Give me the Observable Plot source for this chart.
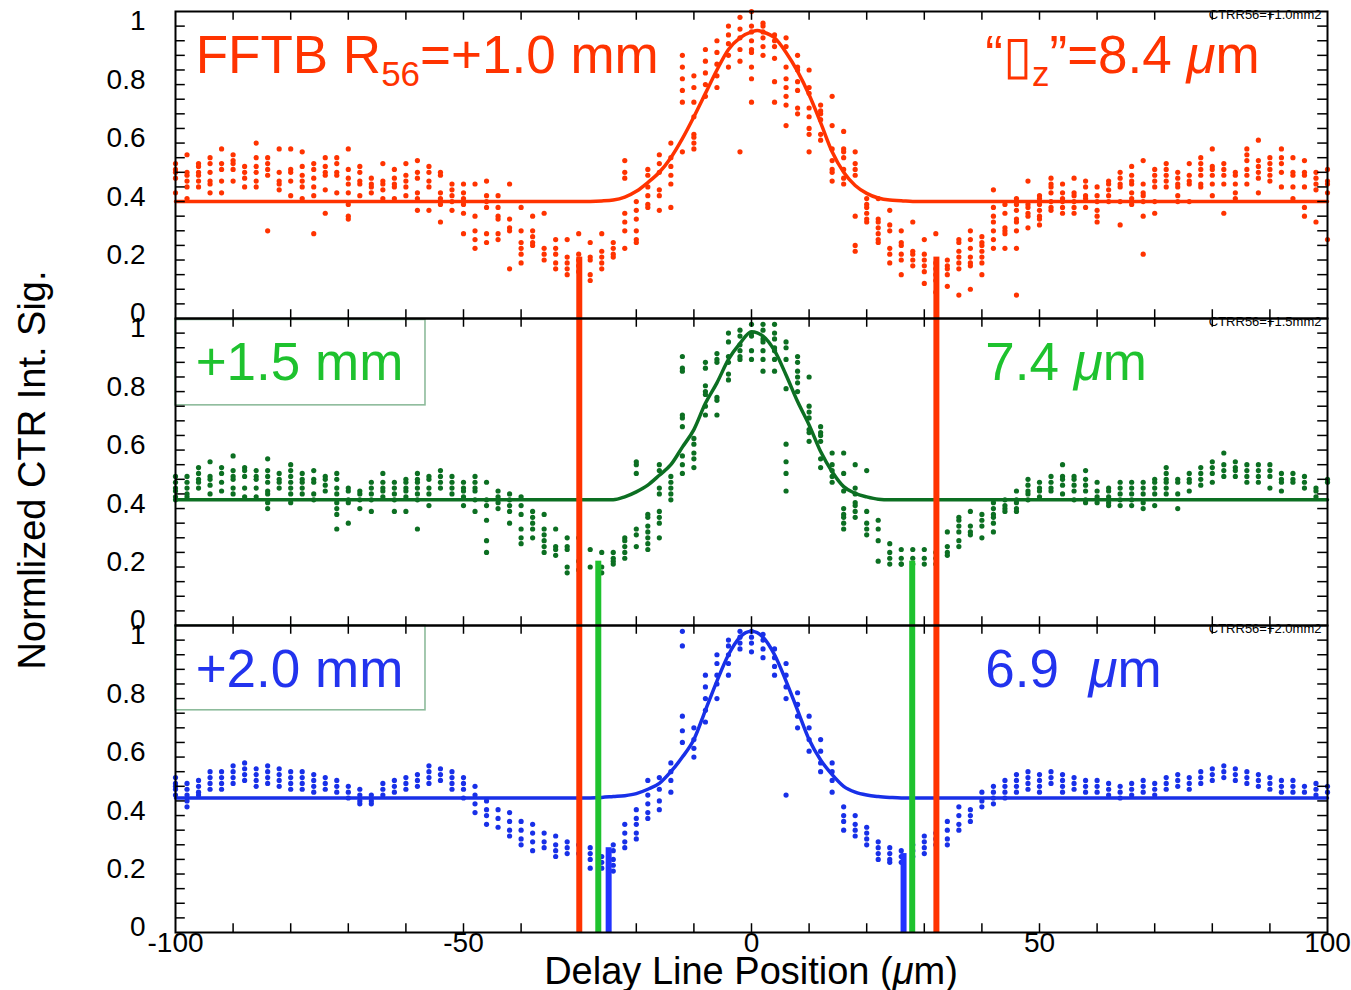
<!DOCTYPE html>
<html><head><meta charset="utf-8">
<script src="https://cdn.jsdelivr.net/npm/d3@7"></script>
<script src="https://cdn.jsdelivr.net/npm/@observablehq/plot@0.6"></script>
<style>
body{margin:0;background:#fff}
#chart{position:relative;width:1351px;height:990px}
svg text{white-space:pre}
</style>
</head><body><div id="chart"></div>
<script>
const FONT = "'Liberation Sans', Arial, Helvetica, sans-serif";
const panelKeys = ["CTRR56=+1.0mm2", "CTRR56=+1.5mm2", "CTRR56=+2.0mm2"];
const panelColors = {
  "CTRR56=+1.0mm2": {dot: "#ff3300", line: "#ff3300", text: "#ff3300"},
  "CTRR56=+1.5mm2": {dot: "#0c6f22", line: "#0c6f22", text: "#1ec22e"},
  "CTRR56=+2.0mm2": {dot: "#1830e8", line: "#1830e8", text: "#2233ee"}
};
const yLabelTicks = [0, 0.2, 0.4, 0.6, 0.8, 1];
const yMinorTicks = [0.05,0.1,0.15,0.2,0.25,0.3,0.35,0.4,0.45,0.5,0.55,0.6,0.65,0.7,0.75,0.8,0.85,0.9,0.95,1];
const xLabelTicks = [-100, -50, 0, 50, 100];
const xMinorTicks = [-90,-80,-70,-60,-50,-40,-30,-20,-10,0,10,20,30,40,50,60,70,80,90];

// Measured CTR signal: "delay: values in that column"
const topCols = [
"-100: .53 .51 .50 .48 .43","-98: .56 .50 .49 .47 .45 .41","-96: .53 .52 .50 .49 .47 .45","-94: .55 .53 .50 .47 .46 .43",
"-92: .58 .53 .51 .47 .43","-90: .56 .54 .53 .51 .47","-88: .52 .50 .48 .45","-86: .60 .55 .52 .50 .47 .45",
"-84: .55 .53 .51 .49 .30","-82: .58 .50 .47 .46 .44","-80: .58 .51 .50 .47 .42","-78: .57 .52 .49 .47 .45 .41",
"-76: .53 .51 .48 .45 .42 .29","-74: .55 .52 .50 .49 .44 .36","-72: .55 .53 .50 .49 .43","-70: .58 .51 .48 .46 .43 .39 .35 .34",
"-68: .52 .50 .47 .46 .42","-66: .48 .46 .45 .43","-64: .53 .47 .46 .44 .41","-62: .51 .48 .46 .45 .41",
"-60: .53 .49 .47 .45 .42","-58: .54 .50 .48 .43 .41 .37","-56: .52 .50 .47 .45 .37","-54: .50 .49 .43 .41 .39 .33",
"-52: .46 .44 .42 .40 .37","-50: .46 .43 .41 .39 .36 .29","-48: .46 .35 .30 .27 .24","-46: .47 .42 .40 .38 .29 .26",
"-44: .42 .38 .35 .34 .29 .27","-42: .46 .34 .31 .30 .17","-40: .38 .30 .26 .24 .22 .19","-38: .35 .30 .28 .26 .25",
"-36: .36 .24 .22 .20","-34: .27 .24 .22 .19 .17","-32: .27 .21 .19 .17 .15","-30: .29 .22 .20 .18 .16",
"-28: .26 .21 .20 .15 .13","-26: .29 .23 .21 .19 .17","-24: .26 .24 .22 .21","-22: .54 .50 .48 .36 .33 .30 .24",
"-20: .40 .37 .34 .30 .27 .26","-18: .51 .49 .45 .42 .39 .38","-16: .56 .53 .50 .44 .42 .37","-14: .60 .55 .52 .49 .46 .38",
"-12: .90 .86 .82 .78 .74 .57","-10: .83 .79 .74 .69 .63 .62 .60 .58","-8: .92 .88 .84 .80 .76","-6: .95 .91 .87 .83 .79",
"-4: 1.00 .97 .94 .90 .86","-2: 1.03 .99 .96 .92 .88 .57",
"0: 1.05 1.00 .98 .95 .92 .91 .86 .82 .74","2: 1.01 1.00 .98 .96 .93 .90","4: .97 .95 .93 .89 .81 .74","6: .96 .93 .86 .82 .79 .76 .73 .66",
"8: .90 .86 .85 .81 .78 .72 .70","10: .85 .79 .77 .72 .69 .65 .63 .57","12: .73 .71 .70 .68 .63 .61","14: .76 .66 .58 .54 .51 .50 .47",
"16: .64 .58 .57 .55 .51 .48 .46","18: .57 .53 .51 .49 .35 .25 .23","20: .41 .39 .38 .36 .34 .33","22: .41 .34 .33 .31 .29 .27 .26",
"24: .37 .32 .30 .24 .22 .19","26: .30 .26 .25 .22 .20 .15","28: .33 .23 .22 .20 .18","30: .27 .22 .20 .18 .16 .12",
"32: .29 .19 .17 .15 .13 .09","34: .20 .18 .17 .15 .11","36: .27 .26 .23 .21 .19 .17 .08","38: .30 .27 .24 .21 .19 .18 .10",
"40: .28 .26 .25 .23 .21 .19 .15","42: .44 .38 .35 .33 .30 .27 .24","44: .39 .36 .31 .30 .29 .24","46: .41 .39 .37 .34 .33 .30 .24 .08",
"48: .47 .39 .38 .36 .35 .31","50: .42 .41 .39 .37 .35 .34 .32","52: .48 .46 .45 .43 .40 .38 .37","54: .46 .43 .41 .40 .38 .36",
"56: .48 .43 .42 .40 .38 .36","58: .47 .45 .42 .41 .38","60: .45 .42 .40 .37 .35 .33","62: .47 .46 .44 .42 .40",
"64: .50 .48 .46 .45 .40 .32","66: .52 .49 .47 .46 .43 .41 .39","68: .54 .46 .43 .42 .40 .35 .22","70: .51 .49 .47 .45 .40 .36",
"72: .53 .51 .49 .47 .45","74: .50 .48 .46 .45 .42 .40","76: .53 .49 .47 .46 .40","78: .55 .53 .51 .49 .46 .45",
"80: .58 .52 .51 .49 .46 .42","82: .53 .51 .49 .46 .36","84: .50 .49 .46 .43 .41","86: .58 .56 .54 .51 .49 .46",
"88: .61 .54 .52 .50 .48 .43","90: .55 .53 .51 .49 .47","92: .58 .55 .53 .50 .45","94: .55 .50 .49 .45 .41",
"96: .54 .50 .49 .45 .38 .35","98: .50 .48 .46 .44 .33","100: .51 .47 .46 .43 .27"
];
const midCols = [
"-100: .51 .49 .47 .46 .44 .43","-98: .51 .49 .47 .45 .44","-96: .54 .52 .50 .49 .47","-94: .56 .51 .50 .48 .45",
"-92: .54 .52 .49 .46","-90: .58 .53 .51 .50 .47 .45","-88: .54 .53 .51 .47 .44","-86: .53 .51 .50 .47 .44",
"-84: .57 .53 .51 .49 .46 .45 .42 .40","-82: .52 .50 .49 .47","-80: .55 .53 .51 .49 .47 .45 .42","-78: .52 .50 .49 .47 .45",
"-76: .53 .50 .49 .45 .43","-74: .51 .50 .48 .46","-72: .52 .50 .47 .45 .42 .40 .38 .33","-70: .47 .46 .43 .42 .35",
"-68: .46 .45 .43 .40","-66: .49 .47 .45 .43 .39","-64: .52 .49 .47 .46 .44","-62: .49 .47 .45 .43 .39",
"-60: .50 .49 .47 .46 .44 .39","-58: .52 .50 .49 .47 .45 .43 .33","-56: .51 .50 .47 .45 .41","-54: .53 .51 .49 .47",
"-52: .51 .49 .47 .45","-50: .49 .47 .46 .44 .41","-48: .51 .49 .47 .46 .43 .39","-46: .49 .43 .41 .36 .29 .25",
"-44: .46 .44 .42 .40","-42: .45 .43 .41 .39 .35","-40: .44 .41 .38 .33 .30 .28","-38: .39 .37 .35 .33 .30",
"-36: .38 .33 .31 .29 .27 .25","-34: .33 .27 .26 .24","-32: .30 .27 .26 .20 .18","-30: .30 .22 .19",
"-28: .26 .20","-26: .25 .20 .18","-24: .25 .23 .22 .21","-22: .30 .29 .27 .25 .23",
"-20: .56 .55 .52 .33 .31 .27","-18: .38 .37 .34 .32 .30 .28 .26","-16: .55 .53 .47 .45 .39 .37 .35 .30","-14: .51 .49 .47 .45 .43",
"-12: .92 .88 .87 .72 .71 .68 .58 .55 .52","-10: .64 .62 .59 .57 .54","-8: .90 .88 .82 .80 .79 .75 .72","-6: .93 .91 .90 .78 .77 .72",
"-4: 1.00 .97 .92 .90 .86 .84","-2: 1.01 .99 .96 .94 .92 .91",
"0: 1.03 1.00 .99 .94 .91","2: 1.03 1.01 .98 .97 .94 .91 .87","4: 1.03 1.00 .98 .95 .94 .91 .87","6: .97 .95 .91 .81 .62 .56 .52 .46",
"8: .92 .90 .87 .85 .83 .80","10: .85 .75 .73 .71 .67 .66 .63","12: .68 .66 .65 .63 .57 .54","14: .59 .55 .53 .51 .49",
"16: .59 .52 .46 .40 .38 .37 .35 .33","18: .55 .47 .45 .42 .41 .39 .37","20: .53 .39 .35 .33 .31","22: .36 .33 .29 .22",
"24: .28 .25 .23 .21","26: .26 .23 .21 .21","28: .26 .23 .21","30: .26 .23 .21",
"32: .25 .23 .21","34: .32 .27 .25 .24","36: .37 .36 .34 .32 .29 .27","38: .39 .34 .32 .31",
"40: .38 .36 .34 .30","42: .42 .40 .38 .37 .35 .32","44: .43 .41 .40 .39","46: .46 .43 .42 .40 .39",
"48: .50 .48 .46 .45 .43","50: .49 .47 .46 .44","52: .51 .49 .47 .46","54: .55 .51 .50 .48 .45",
"56: .51 .50 .48 .46 .43","58: .53 .50 .48 .46 .43 .42","60: .49 .46 .44 .42","62: .47 .46 .44 .42 .41",
"64: .49 .47 .45 .43 .41","66: .49 .47 .45 .43 .41","68: .49 .47 .45 .42 .40","70: .50 .49 .47 .45 .41",
"72: .54 .52 .50 .49 .47 .45","74: .50 .49 .45 .40","76: .52 .50 .49 .46","78: .54 .52 .50 .48",
"80: .56 .54 .52 .49","82: .59 .55 .53 .51","84: .56 .54 .53 .51","86: .55 .53 .51 .49",
"88: .55 .53 .51 .49","90: .55 .53 .51 .47","92: .52 .50 .49 .46","94: .52 .50 .49",
"96: .51 .49 .47","98: .47 .46 .44","100: .50 .49"
];
const botCols = [
"-100: .53 .51 .50 .49 .47","-98: .51 .49 .47 .45 .43","-96: .52 .50 .48 .47","-94: .55 .53 .51 .49",
"-92: .55 .53 .51 .49","-90: .57 .55 .53 .51","-88: .58 .56 .54 .52","-86: .56 .54 .52 .50",
"-84: .57 .55 .53 .51","-82: .56 .54 .52 .50","-80: .55 .53 .51 .49","-78: .55 .53 .51 .49",
"-76: .54 .52 .50 .48","-74: .53 .51 .49","-72: .52 .50 .48","-70: .50 .48 .46",
"-68: .49 .47 .45 .44","-66: .47 .45 .44","-64: .51 .49 .47","-62: .52 .50 .48",
"-60: .53 .51 .49","-58: .54 .52 .50","-56: .57 .55 .53 .51","-54: .56 .54 .52",
"-52: .55 .53 .51 .49","-50: .53 .51 .49 .46","-48: .50 .47 .44 .41","-46: .45 .42 .40 .37",
"-44: .42 .39 .36","-42: .41 .38 .35 .33","-40: .38 .35 .32 .30","-38: .37 .34 .31 .28",
"-36: .34 .31 .29","-34: .33 .30 .28 .26","-32: .31 .29 .27","-30: .30 .27",
"-28: .29 .27 .25 .22","-26: .26 .24 .22","-24: .30 .28 .25 .23 .21","-22: .37 .34 .31 .29",
"-20: .42 .39 .37 .34 .32","-18: .52 .47 .44 .41 .39","-16: .53 .49 .45 .42","-14: .58 .55 .52 .48",
"-12: 1.03 .98 .74 .69 .65","-10: .70 .66 .63 .60","-8: .88 .84 .80 .76 .72","-6: .95 .92 .88 .85 .80",
"-4: 1.00 .98 .95 .92 .88","-2: 1.03 1.01 .99 .97",
"0: 1.03 1.01 .99 .96","2: 1.02 1.00 .97 .94","4: .97 .94 .91 .88","6: .92 .88 .84 .80 .47",
"8: .82 .78 .74 .70","10: .74 .70 .66 .62","12: .66 .62 .58 .55","14: .58 .55 .52 .48",
"16: .43 .40 .38 .35","18: .40 .37 .35 .33","20: .36 .34 .32 .30","22: .31 .29 .27 .25",
"24: .29 .27 .25 .24","26: .28 .26 .24","28: .30 .28 .26","30: .33 .31 .29 .27",
"32: .34 .32 .30","34: .38 .35 .32 .30","36: .43 .40 .37 .35","38: .42 .40 .38",
"40: .48 .45 .43","42: .50 .48 .46 .44","44: .52 .50 .48 .46","46: .54 .52 .50 .48",
"48: .55 .53 .51 .49","50: .54 .52 .50 .48","52: .55 .53 .51","54: .54 .52 .50 .48",
"56: .53 .51 .49","58: .52 .50 .48","60: .52 .50 .48","62: .51 .49 .47",
"64: .50 .48 .46","66: .51 .49 .47","68: .52 .50 .48","70: .51 .49 .47",
"72: .53 .51 .49","74: .54 .52 .50","76: .53 .51 .49","78: .55 .53 .51",
"80: .56 .54 .52","82: .57 .55 .53","84: .56 .54 .52","86: .55 .53 .51",
"88: .54 .52 .50","90: .53 .51 .49","92: .52 .50 .48","94: .52 .50 .48",
"96: .50 .48","98: .51 .49 .47","100: .50 .48"
];

// Gaussian fit curves
const fitTopX = [-100,-30,-26,-24,-22,-20,-18,-16,-14,-12,-10,-8,-6,-4,-2,0,1,2,4,6,8,10,12,14,16,18,20,22,24,26,28,30,100];
const fitTopY = [0.40,0.40,0.402,0.405,0.415,0.435,0.465,0.50,0.55,0.615,0.69,0.77,0.85,0.92,0.96,0.98,0.985,0.98,0.96,0.91,0.845,0.765,0.67,0.57,0.50,0.455,0.428,0.412,0.405,0.403,0.40,0.40,0.40];
const fitMidX = [-100,-26,-24,-22,-20,-18,-16,-14,-12,-10,-8,-6,-4,-2,0,2,4,6,8,10,12,14,16,18,20,22,24,26,100];
const fitMidY = [0.43,0.43,0.43,0.44,0.457,0.48,0.514,0.55,0.61,0.67,0.76,0.83,0.91,0.965,1.005,0.99,0.94,0.857,0.766,0.686,0.595,0.526,0.475,0.452,0.44,0.432,0.43,0.43,0.43];
const fitBotX = [-100,-30,-26,-24,-22,-20,-18,-16,-14,-12,-10,-8,-6,-4,-2,0,2,4,6,8,10,12,14,16,18,20,22,24,26,30,100];
const fitBotY = [0.46,0.46,0.462,0.465,0.468,0.475,0.49,0.51,0.55,0.60,0.66,0.76,0.86,0.95,1.01,1.03,1.01,0.95,0.86,0.76,0.66,0.59,0.54,0.50,0.48,0.47,0.465,0.462,0.46,0.46,0.46];

// Minimum-position markers (vertical bars)
const redMarkX = [-29.9, 32.1];
const greenMarkX = [-26.6, 27.9];
const blueMarkX = [-24.8, 26.4];
const redMarkTop = 0.21, greenMarkTop = 0.22, blueMarkTop = [0.29, 0.27];

// Labels
const bigLabels = ["FFTB R_{56}=+1.0 mm", "+1.5 mm", "+2.0 mm"];
const widthLabels = ["“▯_{z}”=8.4 *μ*m", "7.4 *μ*m", "6.9  *μ*m"];

function parseCols(cols, panel) {
  const out = [];
  for (const s of cols) {
    const [xs, vs] = s.split(":");
    for (const v of vs.trim().split(/\s+/)) out.push({panel, x: +xs, y: +v});
  }
  return out;
}
const pointsByPanel = {
  [panelKeys[0]]: parseCols(topCols, panelKeys[0]),
  [panelKeys[1]]: parseCols(midCols, panelKeys[1]),
  [panelKeys[2]]: parseCols(botCols, panelKeys[2])
};
const fits = {
  [panelKeys[0]]: fitTopX.map((x, i) => ({panel: panelKeys[0], x, y: fitTopY[i]})),
  [panelKeys[1]]: fitMidX.map((x, i) => ({panel: panelKeys[1], x, y: fitMidY[i]})),
  [panelKeys[2]]: fitBotX.map((x, i) => ({panel: panelKeys[2], x, y: fitBotY[i]}))
};
const FULL = 1.05;
const redSegs = [], greenSegs = [], blueSegs = [];
redMarkX.forEach(x => {
  redSegs.push({panel: panelKeys[0], x, y1: 0, y2: redMarkTop});
  redSegs.push({panel: panelKeys[1], x, y1: 0, y2: FULL});
  redSegs.push({panel: panelKeys[2], x, y1: 0, y2: FULL});
});
greenMarkX.forEach(x => {
  greenSegs.push({panel: panelKeys[1], x, y1: 0, y2: greenMarkTop});
  greenSegs.push({panel: panelKeys[2], x, y1: 0, y2: FULL});
});
blueMarkX.forEach((x, i) => blueSegs.push({panel: panelKeys[2], x, y1: 0, y2: blueMarkTop[i]}));

const boxes = [
  {panel: panelKeys[1], x1: -100, x2: -56.6, y1: 0.753, y2: 1.045},
  {panel: panelKeys[2], x1: -100, x2: -56.6, y1: 0.76, y2: 1.05}
];
const tags = panelKeys.map(p => ({panel: p, text: p}));

const marks = [
  Plot.rect(boxes, {fy: "panel", x1: "x1", x2: "x2", y1: "y1", y2: "y2", fill: "none", stroke: "#8dbb9b", strokeWidth: 1.6})
];
panelKeys.forEach((p, i) => {
  const c = panelColors[p];
  marks.push(Plot.dot(pointsByPanel[p], {fy: "panel", x: "x", y: "y", r: 2.6, fill: c.dot, stroke: "none"}));
  marks.push(Plot.line(fits[p], {fy: "panel", x: "x", y: "y", stroke: c.line, strokeWidth: 3.5, curve: "monotone-x"}));
  marks.push(Plot.text([{panel: p, t: bigLabels[i]}], {fy: "panel", x: -96.5, y: 0.897, text: "t", fill: c.text, fontSize: 53, textAnchor: "start", lineAnchor: "middle"}));
  marks.push(Plot.text([{panel: p, t: widthLabels[i]}], {fy: "panel", x: 40.6, y: 0.897, text: "t", fill: c.text, fontSize: 53, textAnchor: "start", lineAnchor: "middle"}));
});
marks.push(
  Plot.ruleY(yMinorTicks, {x1: -100, x2: -98.3, stroke: "black", strokeWidth: 1.5}),
  Plot.ruleY(yMinorTicks, {x1: 98.3, x2: 100, stroke: "black", strokeWidth: 1.5}),
  Plot.ruleX(xMinorTicks, {y1: 0, y2: 0.03, stroke: "black", strokeWidth: 1.5}),
  Plot.ruleX(xMinorTicks, {y1: 1.02, y2: 1.05, stroke: "black", strokeWidth: 1.5}),
  Plot.ruleX(redSegs, {fy: "panel", x: "x", y1: "y1", y2: "y2", stroke: "#ff3300", strokeWidth: 6}),
  Plot.ruleX(greenSegs, {fy: "panel", x: "x", y1: "y1", y2: "y2", stroke: "#1ec22e", strokeWidth: 6}),
  Plot.ruleX(blueSegs, {fy: "panel", x: "x", y1: "y1", y2: "y2", stroke: "#2233ff", strokeWidth: 6}),
  Plot.frame({stroke: "black", strokeWidth: 2}),
  Plot.text(tags, {fy: "panel", text: "text", frameAnchor: "top-right", dx: -6, dy: -2, fontSize: 13, fill: "black"}),
  Plot.axisY({ticks: yLabelTicks, tickSize: 0, tickPadding: 30, fontSize: 28, dy: -5, tickFormat: d => String(d)}),
  Plot.axisX({ticks: xLabelTicks, tickSize: 0, tickPadding: 0, fontSize: 28, tickFormat: d => String(d)})
);

const chart = Plot.plot({
  width: 1351, height: 990,
  marginTop: 11, marginBottom: 58, marginLeft: 175, marginRight: 24,
  x: {domain: [-100, 100], axis: null},
  y: {domain: [0, 1.05], axis: null},
  fy: {domain: panelKeys, padding: 0, axis: null},
  style: {fontFamily: FONT, background: "white", color: "black", overflow: "visible"},
  marks
});
document.getElementById("chart").appendChild(chart);

// Rich-text markup: _{..} subscript, *..* italic
const svg = d3.select(chart.tagName.toLowerCase() === "svg" ? chart : chart.querySelector("svg"));
svg.selectAll("text").each(function() {
  const t = this.textContent;
  if (this.childElementCount > 0 || !/_\{|\*/.test(t)) return;
  const parts = [];
  const re = /_\{([^}]*)\}|\*([^*]*)\*|([^_*]+)/g;
  let m;
  while ((m = re.exec(t))) {
    if (m[1] !== undefined) parts.push({s: m[1], sub: true});
    else if (m[2] !== undefined) parts.push({s: m[2], it: true});
    else parts.push({s: m[3]});
  }
  this.textContent = "";
  const el = d3.select(this);
  let down = false;
  for (const p of parts) {
    const ts = el.append("tspan").text(p.s);
    if (p.sub) { ts.attr("font-size", 35).attr("dy", 13); down = true; }
    else if (down) { ts.attr("dy", -13); down = false; }
    if (p.it) ts.attr("font-style", "italic");
  }
});
// Axis titles
svg.append("text").attr("transform", "translate(45,470) rotate(-90)")
  .attr("text-anchor", "middle").attr("font-size", 38).attr("fill", "black")
  .text("Normlized CTR Int. Sig.");
const xt = svg.append("text").attr("x", 751).attr("y", 984).attr("text-anchor", "middle").attr("font-size", 38).attr("fill", "black");
xt.append("tspan").text("Delay Line Position (");
xt.append("tspan").attr("font-style", "italic").text("μ");
xt.append("tspan").text("m)");
</script>
</body></html>
